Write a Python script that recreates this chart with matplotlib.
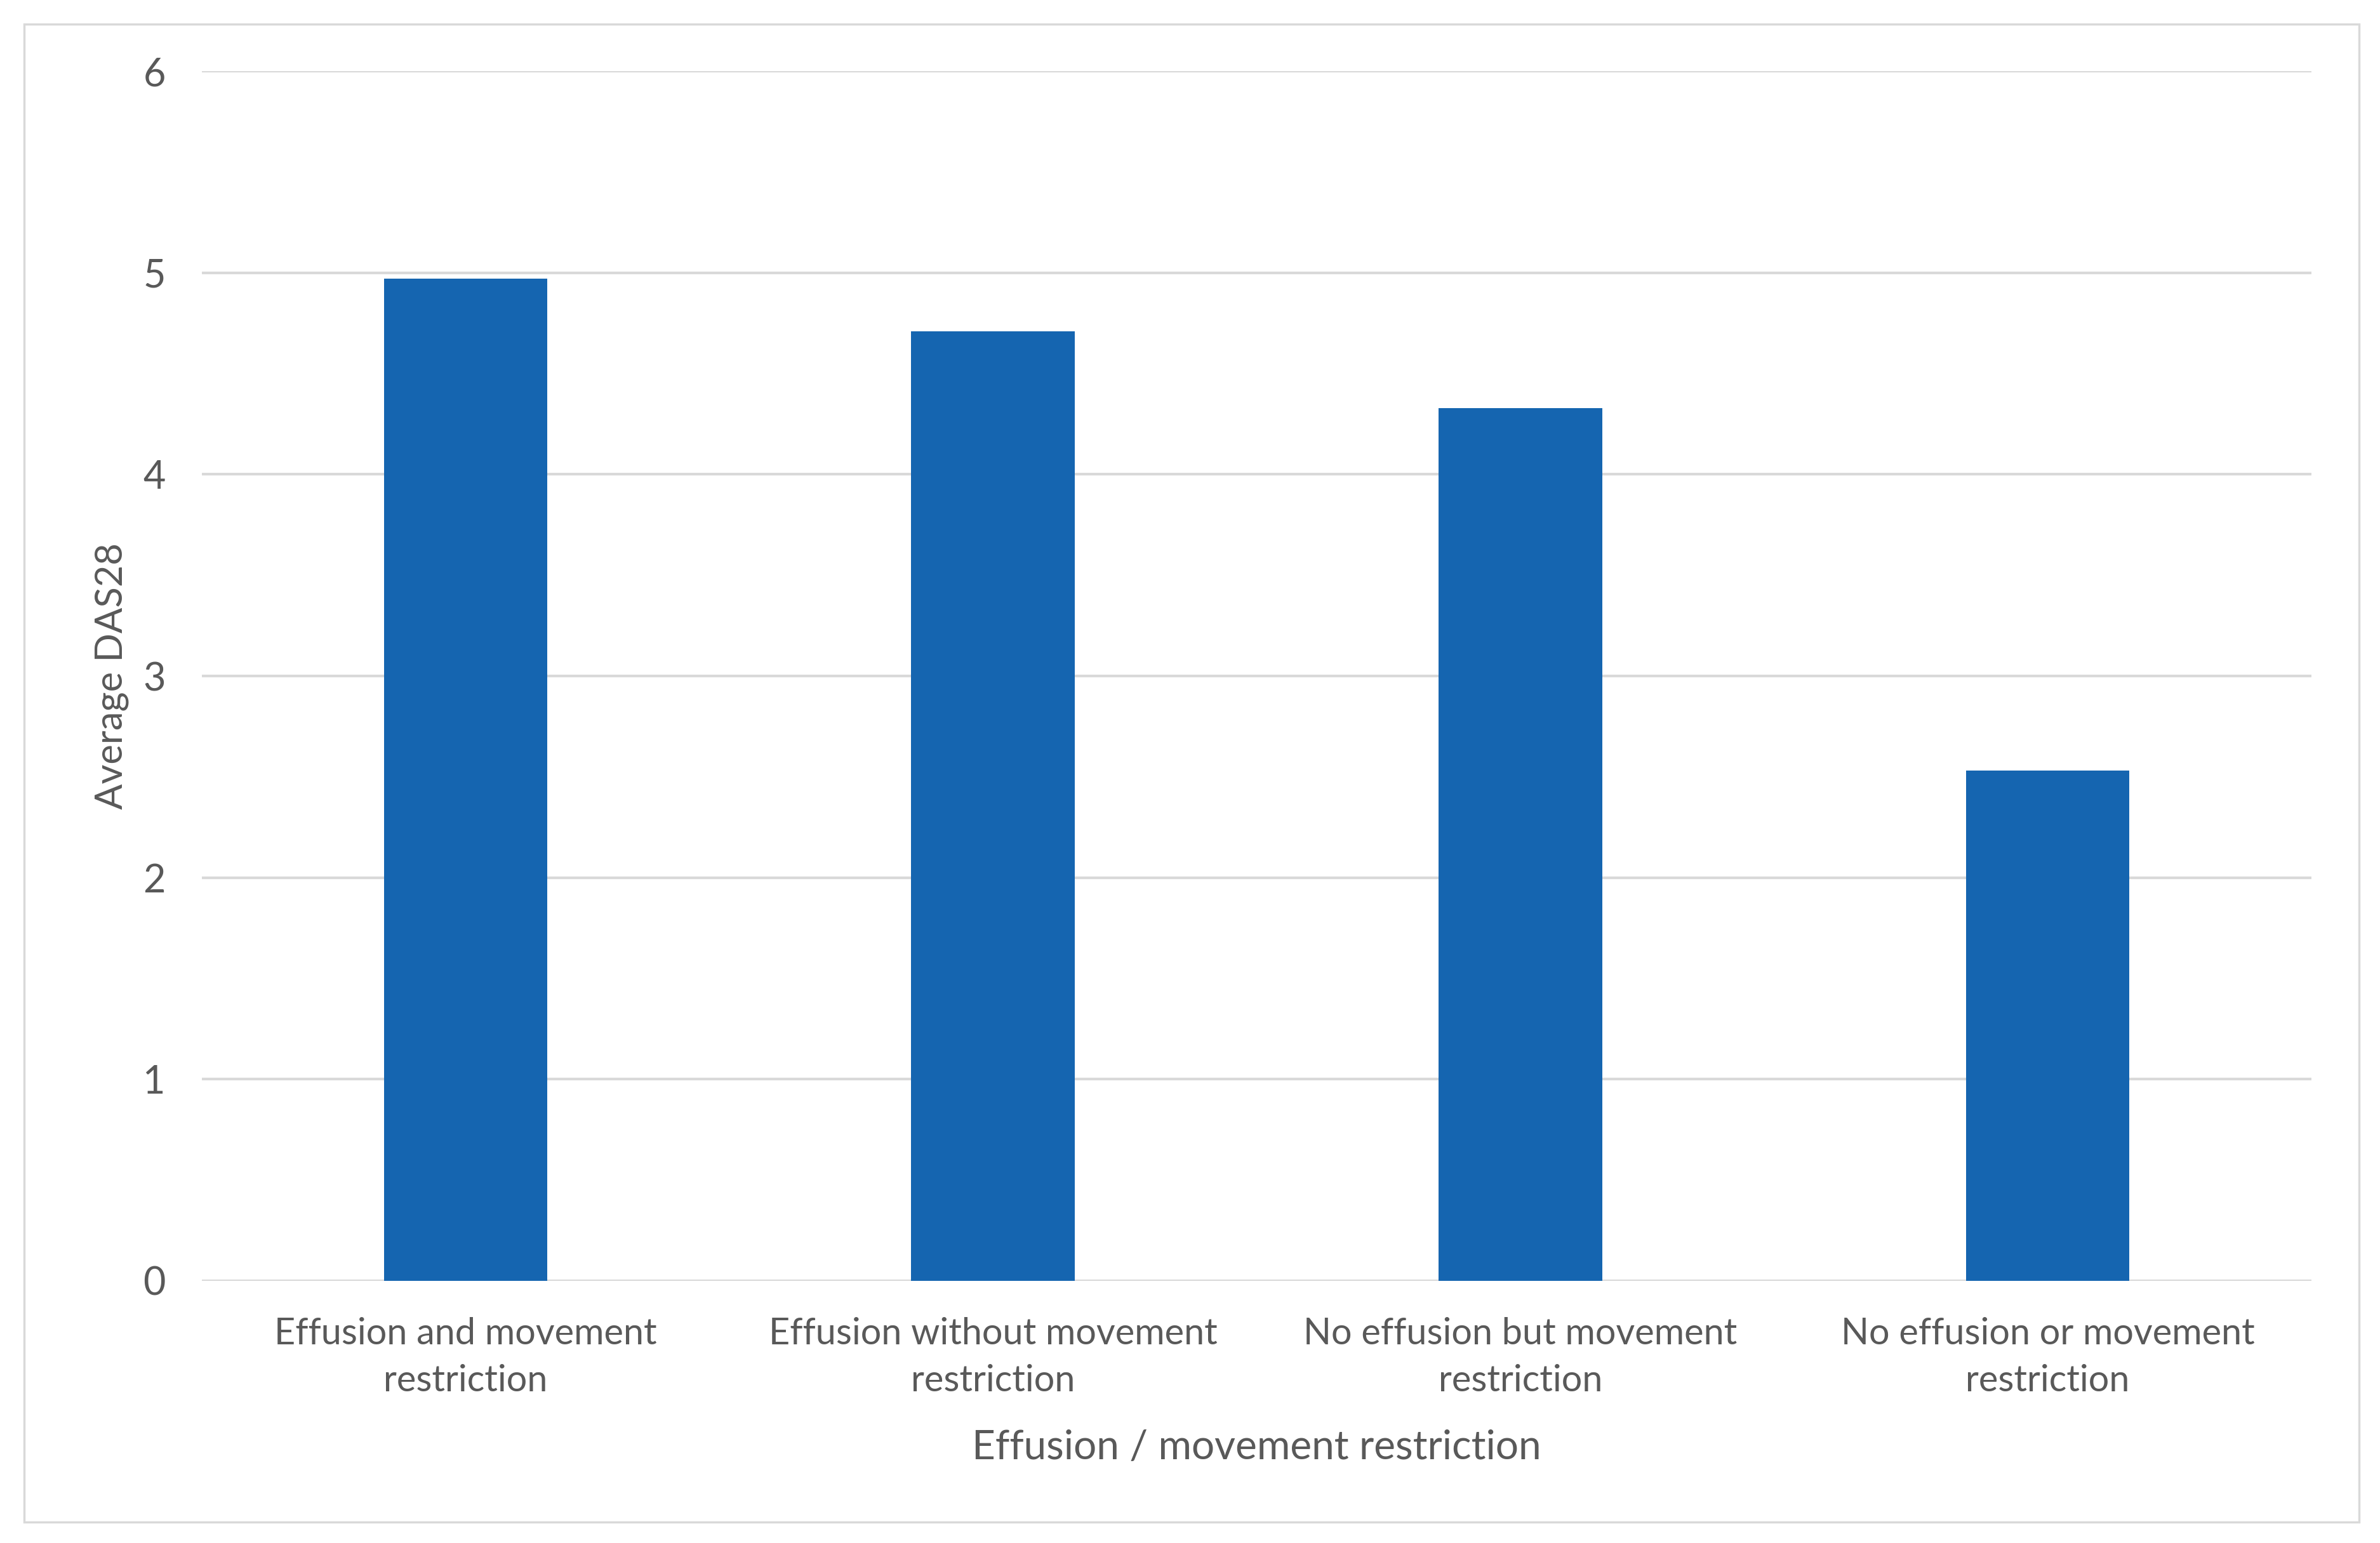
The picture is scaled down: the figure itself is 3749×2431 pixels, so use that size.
"""Average DAS28 by effusion / movement restriction group (bar chart)."""
import matplotlib
matplotlib.use("Agg")
import matplotlib.pyplot as plt
from matplotlib.patches import Rectangle

categories = ["Effusion and movement\nrestriction",
              "Effusion without movement\nrestriction",
              "No effusion but movement\nrestriction",
              "No effusion or movement\nrestriction"]
das28 = [4.97, 4.71, 4.33, 2.53]
yticks = [0, 1, 2, 3, 4, 5, 6]

BAR = "#1565B0"
GRID = "#D9D9D9"
TEXT = "#595959"

plt.rcParams["font.family"] = ["Lato", "DejaVu Sans"]

fig = plt.figure(figsize=(37.49, 24.31), dpi=100)
ax = fig.add_axes([0.0848, 0.1699, 0.8864, 0.7840])

x = range(len(categories))
ax.bar(x, das28, width=0.31, color=BAR, zorder=3)

ax.set_xlim(-0.5, len(categories) - 0.5)
ax.set_ylim(0, 6)
ax.set_yticks(yticks)
ax.set_xticks(list(x))
ax.set_xticklabels(categories, fontsize=41.5, color=TEXT, linespacing=1.5)
ax.tick_params(axis="y", labelsize=44, labelcolor=TEXT, length=0, pad=41)
ax.tick_params(axis="x", length=0, pad=41)
ax.yaxis.grid(True, color=GRID, lw=3, zorder=0)
for s in ax.spines.values():
    s.set_visible(False)

ax.set_ylabel("Average DAS28", fontsize=43, color=TEXT, labelpad=16)
ax.set_xlabel("Effusion / movement restriction", fontsize=46, color=TEXT,
              labelpad=36)

# outer chart border
fig.patches.append(Rectangle((0.0101, 0.0136), 0.981, 0.9708,
                             transform=fig.transFigure, fill=False,
                             edgecolor=GRID, lw=2.5))

fig.savefig("out.png", dpi=100)
